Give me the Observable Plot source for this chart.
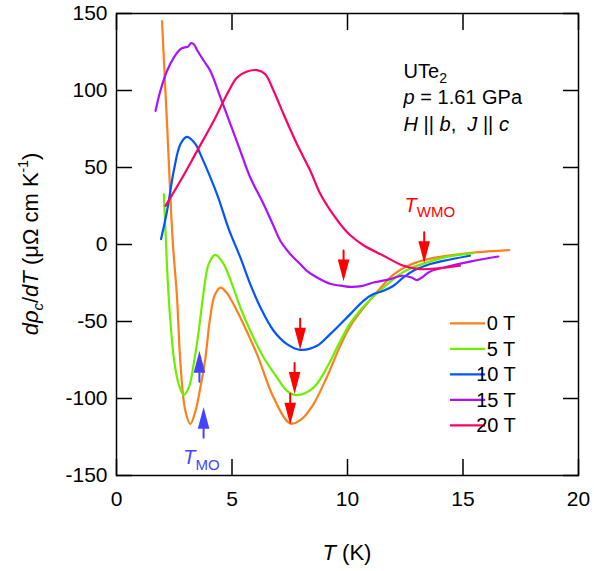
<!DOCTYPE html>
<html><head><meta charset="utf-8">
<script src="https://cdn.jsdelivr.net/npm/d3@7"></script>
<script src="https://cdn.jsdelivr.net/npm/@observablehq/plot@0.6"></script>
<style>
body{margin:0;background:#fff}
svg{font-family:"Liberation Sans",Arial,sans-serif}
</style>
</head><body><div id="chart"></div>
<script>
// ---- data ----
const fields = ["0 T", "5 T", "10 T", "15 T", "20 T"];
const colors = ["#ff7f1a", "#6cf000", "#0055ff", "#aa11ff", "#ff0066"];
const xTicks = [0, 5, 10, 15, 20];
const yTicks = [-150, -100, -50, 0, 50, 100, 150];

const t0 = [1.97, 2.2, 2.43, 2.62, 2.77, 2.98, 3.2, 3.42, 3.63, 3.85, 4.05, 4.25, 4.5, 4.75, 5.0, 5.36, 6.08, 6.8, 7.52, 8.0, 8.53, 9.11, 9.68, 10.12, 10.84, 11.41, 11.99, 12.71, 13.58, 14.3, 15.45, 17.0];
const v0 = [145, 74.5, 3, -34.4, -77.5, -108, -116.6, -108, -92.9, -73.4, -48, -33, -28, -31, -37, -47.4, -71.2, -99.4, -116.2, -113.5, -103.6, -86, -66, -53, -38.5, -28.5, -19.5, -13.2, -9.2, -7.3, -5.2, -3.6];

const t5 = [2.05, 2.12, 2.26, 2.48, 2.69, 2.91, 3.13, 3.34, 3.56, 3.78, 3.99, 4.28, 4.64, 5.0, 5.36, 5.79, 6.37, 6.95, 7.38, 7.81, 8.53, 9.11, 9.68, 10.12, 10.84, 11.41, 11.99, 12.57, 13.43, 14.3, 15.45];
const v5 = [32.7, 8.9, -34.4, -73.4, -90.6, -97.6, -92.9, -77.7, -56, -30, -12.7, -6.7, -12.7, -25.7, -40.9, -56, -73.4, -86.4, -95, -97.8, -92.9, -79.9, -63, -51, -38, -30, -22.5, -16.6, -11.7, -8, -5.6];

const t10 = [1.93, 2.19, 2.48, 2.77, 3.05, 3.42, 3.63, 4.35, 4.86, 5.36, 5.79, 6.23, 6.8, 7.38, 7.95, 8.68, 9.25, 10.12, 10.69, 11.12, 11.56, 11.99, 12.42, 12.85, 13.58, 14.15, 15.3];
const v10 = [3.5, 21.9, 47.9, 65.2, 69.9, 65.2, 58.7, 32.7, 10, -8.4, -25.7, -40.9, -56, -64.7, -68.4, -65.8, -58.2, -45.2, -36.6, -32.2, -30.1, -26.8, -21.4, -17.1, -12.7, -10.6, -7.3];

const t15 = [1.69, 1.9, 2.19, 2.48, 2.77, 2.95, 3.1, 3.23, 3.35, 3.5, 3.78, 4.06, 4.5, 4.93, 5.36, 5.79, 6.37, 6.8, 7.09, 7.52, 7.95, 8.24, 8.68, 9.25, 9.83, 10.12, 10.6, 11.12, 11.85, 12.35, 12.78, 13.0, 13.22, 13.58, 14.3, 15.45, 16.53];
const v15 = [86.8, 99.8, 112.8, 121.4, 126.9, 128, 128.5, 130.8, 130, 126, 119.3, 112.8, 95.5, 78.2, 60.8, 43.5, 26.2, 12, 2.4, -6.2, -12.7, -17.1, -21.4, -25.5, -27, -27.5, -27, -24.7, -22.5, -20.3, -21.4, -23.1, -21.4, -17.5, -14.5, -10.6, -7.8];

const t20 = [2.12, 2.77, 3.49, 4.21, 4.79, 5.22, 5.65, 6.08, 6.44, 6.8, 7.23, 7.81, 8.39, 8.82, 9.4, 9.83, 10.12, 10.69, 11.56, 12.42, 13.14, 14.0, 14.87];
const v20 = [25.1, 41.4, 60.8, 80.3, 97.7, 108.4, 112.3, 113.2, 110.6, 99.8, 84.7, 65.2, 47.9, 33, 19, 10.5, 6, -0.5, -7.3, -13.8, -16, -15.3, -13.8];

// arrow tips (T, value)
const wmoT = [7.52, 7.71, 7.95, 9.83, 13.32];
const wmoV = [-114.5, -94.5, -65.8, -21.4, -9.5];
const moT = [3.59, 3.77];
const moV = [-71.6, -108];

// ---- build ----
const series = [[t0, v0], [t5, v5], [t10, v10], [t15, v15], [t20, v20]];
const rows = fields.flatMap((f, i) => series[i][0].map((t, j) => ({field: f, T: t, V: series[i][1][j]})));
const wmo = wmoT.map((t, i) => ({T: t, V: wmoV[i]}));
const mo = moT.map((t, i) => ({T: t, V: moV[i]}));

const arrowShape = {
  draw(ctx, l) {
    const h = 17, w = 4.5;
    ctx.moveTo(0, 0);
    ctx.lineTo(0, -(l - h));
    ctx.moveTo(-w, -(l - h));
    ctx.lineTo(0, -l);
    ctx.lineTo(w, -(l - h));
    ctx.closePath();
  }
};

const fmt = d => String(d);
const plot = Plot.plot({
  width: 594, height: 571,
  marginLeft: 116, marginRight: 16, marginTop: 13, marginBottom: 96,
  style: {fontFamily: "Liberation Sans, Arial, sans-serif", fontSize: "21px", color: "#000", background: "#fff", overflow: "visible"},
  x: {domain: [0, 20]},
  y: {domain: [-150, 150]},
  color: {domain: fields, range: colors},
  marks: [
    Plot.axisX({ticks: xTicks, anchor: "bottom", tickSize: -16, tickPadding: 32, tickFormat: fmt, label: null, strokeWidth: 1.5, fontSize: 21}),
    Plot.axisX({ticks: xTicks, anchor: "top", tickSize: -16, tickFormat: () => "", label: null, strokeWidth: 1.5}),
    Plot.axisY({ticks: yTicks, anchor: "left", tickSize: -16, tickPadding: 25, tickFormat: fmt, label: null, strokeWidth: 1.5, fontSize: 21}),
    Plot.axisY({ticks: yTicks, anchor: "right", tickSize: -16, tickFormat: () => "", label: null, strokeWidth: 1.5}),
    Plot.line(rows, {x: "T", y: "V", z: "field", stroke: "field", strokeWidth: 2.2, curve: "catmull-rom"}),
    Plot.vector(wmo, {x: "T", y: "V", length: 27, rotate: 180, anchor: "end", shape: arrowShape, stroke: "#ff0000", fill: "#ff0000", strokeWidth: 2, strokeLinejoin: "miter"}),
    Plot.vector(mo, {x: "T", y: "V", length: 27, rotate: 0, anchor: "end", shape: arrowShape, stroke: "#4444ff", fill: "#4444ff", strokeWidth: 2, strokeLinejoin: "miter"}),
    Plot.frame({stroke: "#000", strokeWidth: 1.5})
  ]
});
document.getElementById("chart").appendChild(plot);

// ---- annotations ----
const sx = plot.scale("x"), sy = plot.scale("y");
const X = v => sx.apply(v), Y = v => sy.apply(v);
const svg = d3.select(plot);
const fs = 20;

function addText(x, y, html, opts = {}) {
  const t = svg.append("text").attr("x", x).attr("y", y)
    .attr("font-size", opts.size || fs).attr("fill", opts.fill || "#000")
    .attr("text-anchor", opts.anchor || "start");
  if (opts.transform) t.attr("transform", opts.transform);
  t.html(html);
  return t;
}

// y-axis label
addText(0, 0,
  '<tspan font-style="italic">dρ</tspan><tspan font-style="italic" font-size="15" dy="5">c</tspan><tspan dy="-5">/</tspan><tspan font-style="italic">dT</tspan><tspan> (μΩ cm K</tspan><tspan font-size="14" dy="-10">-1</tspan><tspan dy="10">)</tspan>',
  {anchor: "middle", size: 22, transform: `translate(38,${(Y(150) + Y(-150)) / 2}) rotate(-90)`});

// x-axis label
addText((X(0) + X(20)) / 2, 560, '<tspan font-style="italic">T</tspan> (K)', {anchor: "middle", size: 22});

// sample info
const ix = X(12.45), iy = Y(108);
addText(ix, iy, 'UTe<tspan font-size="14" dy="5">2</tspan>');
addText(ix, iy + 26.7, '<tspan font-style="italic">p</tspan> = 1.61 GPa');
addText(ix, iy + 53.4, '<tspan font-style="italic">H</tspan> || <tspan font-style="italic">b</tspan>,  <tspan font-style="italic">J</tspan> || <tspan font-style="italic">c</tspan>');

// T_WMO, T_MO labels
addText(X(12.49), Y(20.8), '<tspan font-style="italic">T</tspan><tspan font-size="15" dy="5">WMO</tspan>', {fill: "#ff0000"});
addText(X(2.91), Y(-143), '<tspan font-style="italic">T</tspan><tspan font-size="15" dy="6">MO</tspan>', {fill: "#4444ff"});

// legend
const lg = svg.append("g");
fields.forEach((f, i) => {
  const yy = 323.3 + i * 25.5;
  lg.append("line").attr("x1", 450).attr("x2", 485).attr("y1", yy).attr("y2", yy)
    .attr("stroke", colors[i]).attr("stroke-width", 2.2);
  lg.append("text").attr("x", f.length === 3 ? 501 : 496).attr("y", yy + 7)
    .attr("font-size", fs).text(f);
});
</script>
</body></html>
